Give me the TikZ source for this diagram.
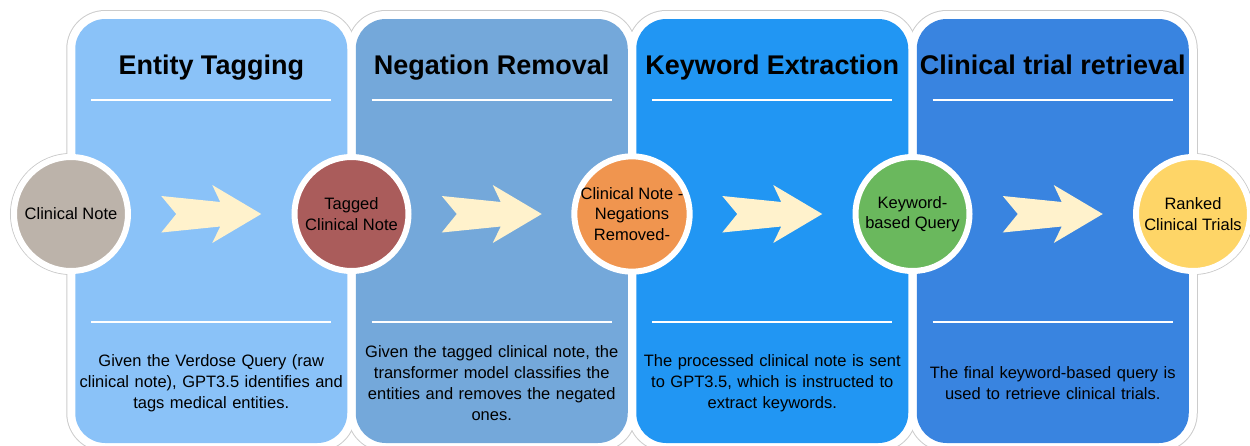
\documentclass[tikz,border=0pt]{standalone}
\usepackage{fontspec}
\setmainfont{Liberation Sans}
\usetikzlibrary{calc}
\definecolor{edge}{HTML}{CCCCCC}
\definecolor{pone}{HTML}{8AC2F8}
\definecolor{ptwo}{HTML}{74A8DA}
\definecolor{pthree}{HTML}{2196F3}
\definecolor{pfour}{HTML}{3984E0}
\definecolor{cnote}{HTML}{BCB3AA}
\definecolor{ctag}{HTML}{AA5C5B}
\definecolor{cneg}{HTML}{F0954F}
\definecolor{ckey}{HTML}{6AB85D}
\definecolor{crank}{HTML}{FED567}
\definecolor{cream}{HTML}{FFF2CC}
\begin{document}
\begin{tikzpicture}[x=1pt,y=-1pt,
    panel/.style={rounded corners=30pt,minimum width=272pt,minimum height=424pt,inner sep=0pt},
    outer/.style={rounded corners=38pt,minimum width=288pt,minimum height=440pt,inner sep=0pt},
    ring/.style={circle,minimum size=120pt,inner sep=0pt},
    stage/.style={circle,minimum size=114pt,inner sep=0pt,draw=white,line width=6pt,
        align=center,font=\fontsize{16.5}{20.5}\selectfont},
    heading/.style={anchor=base,font=\fontsize{27}{32}\selectfont\bfseries},
    body/.style={align=center,text width=272pt,font=\fontsize{16.5}{21}\selectfont},
    rule/.style={white,line width=2pt},
    chevron/.style={fill=cream}]
\useasboundingbox (0,0) rectangle (1250,445);
\foreach \k in {0,...,4}
  \coordinate (c\k) at ({71+280.5*\k},214);
\foreach \k [count=\j from 0] in {1,...,4}
  \coordinate (m\k) at ($(c\j)!0.5!(c\k)$);
% white frame, grey edge only round the outside
\foreach \k in {1,...,4}
  \node[outer,draw=edge,line width=2pt] at ($(m\k)+(0,17)$) {};
\foreach \k in {0,...,4}
  \node[ring,draw=edge,line width=2pt] at (c\k) {};
\foreach \k in {1,...,4}
  \node[outer,fill=white] at ($(m\k)+(0,17)$) {};
\foreach \k in {0,...,4}
  \node[ring,fill=white] at (c\k) {};
% panels
\foreach \k/\col/\ttl/\txt in {
    1/pone/{Entity Tagging}/{Given the Verdose Query (raw\\clinical note), GPT3.5 identifies and\\tags medical entities.},
    2/ptwo/{Negation Removal}/{Given the tagged clinical note, the\\transformer model classifies the\\entities and removes the negated\\ones.},
    3/pthree/{Keyword Extraction}/{The processed clinical note is sent\\to GPT3.5, which is instructed to\\extract keywords.},
    4/pfour/{Clinical trial retrieval}/{The final keyword-based query is\\used to retrieve clinical trials.}} {
  \node[panel,fill=\col] (panel\k) at ($(m\k)+(0,17)$) {};
  \node[heading] (title\k) at ($(m\k)+(0,-140)$) {\ttl};
  \draw[rule] ($(panel\k.north west)+(16,81)$) -- ($(panel\k.north east)+(-16,81)$);
  \draw[rule] ($(panel\k.north west)+(16,303)$) -- ($(panel\k.north east)+(-16,303)$);
  \node[body] (desc\k) at ($(m\k)+(0,169)$) {\txt};
  \fill[chevron,shift={(m\k)}] (-50,-18) -- (9,-12) -- (1,-29) -- (50,0)
    -- (1,29) -- (9,12.5) -- (-50,18.5) -- (-35,0) -- cycle;
}
% stages
\foreach \k/\col/\txt in {0/cnote/{Clinical Note}, 1/ctag/{Tagged\\Clinical Note},
    2/cneg/{Clinical Note -\\Negations\\Removed-}, 3/ckey/{Keyword-\\based Query},
    4/crank/{Ranked\\Clinical Trials}}
  \node[stage,fill=\col] (n\k) at (c\k) {\txt};
\end{tikzpicture}
\end{document}
